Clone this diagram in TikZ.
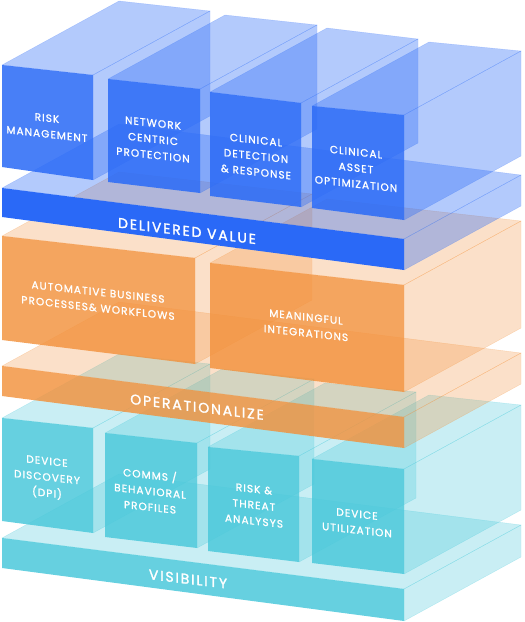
\documentclass[tikz,border=0pt]{standalone}
\usepackage{fontspec}
\newfontfamily\lblfont{Poppins}[LetterSpace=10, FakeBold=1.2]
\newfontfamily\barfont{Poppins}[LetterSpace=13, FakeBold=1.6]
\definecolor{bB}{HTML}{2D6CF6}
\definecolor{bBar}{HTML}{2A69F7}
\definecolor{oB}{HTML}{F2913C}
\definecolor{tB}{HTML}{4BC8DA}
\tikzset{
  blueLight/.style={fill=bB, fill opacity=0.36, draw=bB, draw opacity=0.25, line width=0.4pt},
  blueFront/.style={fill=bB, fill opacity=0.87},
  blueBar/.style={fill=bBar},
  orLight/.style={fill=oB, fill opacity=0.28, draw=oB, draw opacity=0.3, line width=0.4pt},
  orFront/.style={fill=oB, fill opacity=0.82},
  teLight/.style={fill=tB, fill opacity=0.30, draw=tB, draw opacity=0.3, line width=0.4pt},
  teFront/.style={fill=tB, fill opacity=0.85},
  lbl/.style={text=white, align=center, font=\lblfont\fontsize{10.5}{16}\selectfont, yslant=-0.11, inner sep=0pt},
  barlbl/.style={text=white, font=\barfont\fontsize{14}{16}\selectfont, yslant=-0.12, inner sep=0pt}
}
% #1 x left, #2 y top-left, #3 x right, #4 y top-right, #5 y bottom-right, #6 y bottom-left, #7 light style, #8 front style
\newcommand{\mkbox}[8]{%
  \path[#7] (#1,#2) -- (#3,#4) -- (#3+117,#4-64) -- (#1+117,#2-64) -- cycle;
  \path[#7] (#3,#4) -- (#3,#5) -- (#3+117,#5-64) -- (#3+117,#4-64) -- cycle;
  \path[#8] (#1,#2) -- (#3,#4) -- (#3,#5) -- (#1,#6) -- cycle;
}
\begin{document}
\begin{tikzpicture}[x=1pt,y=-1pt]
\useasboundingbox (0,0) rectangle (525,622);
% ---------- teal layer (Visibility) ----------
\mkbox{2}{538}{404}{589}{621}{568}{teLight}{teFront}
\mkbox{2}{418}{93}{428}{533}{521}{teLight}{teFront}
\mkbox{105}{433}{197}{443}{548}{537}{teLight}{teFront}
\mkbox{208}{447}{299}{456}{562}{551}{teLight}{teFront}
\mkbox{312}{459}{404}{469}{574}{563}{teLight}{teFront}
% ---------- orange layer (Operationalize) ----------
\mkbox{2}{366}{404}{417}{448}{396}{orLight}{orFront}
\mkbox{2}{236}{195}{258}{364}{340}{orLight}{orFront}
\mkbox{210}{263}{404}{285}{392}{368}{orLight}{orFront}
% ---------- blue layer (Delivered value) ----------
\mkbox{2}{188}{404}{239}{270}{217}{blueLight}{blueBar}
\mkbox{2}{65}{93}{75}{180}{167}{blueLight}{blueFront}
\mkbox{108}{79}{200}{89}{193}{182}{blueLight}{blueFront}
\mkbox{210}{92}{301}{103}{207}{196}{blueLight}{blueFront}
\mkbox{312}{106}{404}{115}{220}{208}{blueLight}{blueFront}
% ---------- labels ----------
\node[lbl] (rm) at (47,126) {RISK\\MANAGEMENT};
\node[lbl] (ncp) at (153,139) {NETWORK\\CENTRIC\\PROTECTION};
\node[lbl] (cdr) at (256,156) {CLINICAL\\DETECTION\\\& RESPONSE};
\node[lbl] (cao) at (356,168) {CLINICAL\\ASSET\\OPTIMIZATION};
\node[barlbl] (dv) at (187,231) {DELIVERED VALUE};
\node[lbl] (abp) at (98,300) {AUTOMATIVE BUSINESS\\PROCESSES\& WORKFLOWS};
\node[lbl] (mi) at (306,325) {MEANINGFUL\\INTEGRATIONS};
\node[barlbl] (op) at (197,407) {OPERATIONALIZE};
\node[lbl] (dd) at (47,478) {DEVICE\\DISCOVERY\\(DPI)};
\node[lbl] (cbp) at (150,490) {COMMS /\\BEHAVIORAL\\PROFILES};
\node[lbl] (rta) at (254,505) {RISK \&\\THREAT\\ANALYSYS};
\node[lbl] (du) at (357,522) {DEVICE\\UTILIZATION};
\node[barlbl] (vis) at (188,579) {VISIBILITY};
\end{tikzpicture}
\end{document}
